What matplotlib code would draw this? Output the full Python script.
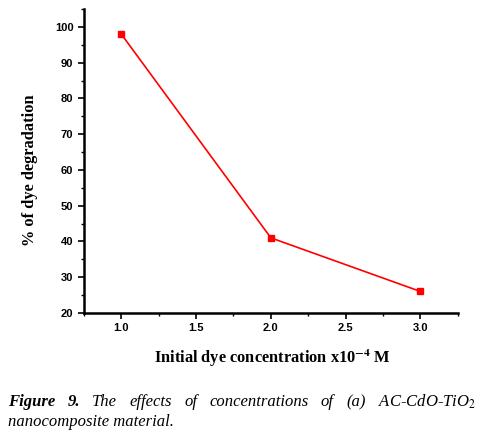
import matplotlib
matplotlib.use("Agg")
import matplotlib.pyplot as plt
from matplotlib.ticker import MultipleLocator

# --- dane ---
stezenie = [1.0, 2.0, 3.0]          # x10^-4 M
degradacja = [98, 41, 26]           # %

x_ticks = [1.0, 1.5, 2.0, 2.5, 3.0]
y_ticks = [20, 30, 40, 50, 60, 70, 80, 90, 100]

plt.rcParams["mathtext.fontset"] = "stix"

fig = plt.figure(figsize=(4.85, 4.34), dpi=100)
ax = fig.add_axes([0.173, 0.279, 0.771, 0.70])

ax.plot(stezenie, degradacja, color="red", lw=1.2, marker="s", ms=4.5,
        mfc="red", mec="red")

ax.set_xlim(0.75, 3.25)
ax.set_ylim(20, 105)
ax.set_xticks(x_ticks)
ax.set_yticks(y_ticks)
ax.xaxis.set_minor_locator(MultipleLocator(0.25))
ax.yaxis.set_minor_locator(MultipleLocator(5))

for s in ["top", "right"]:
    ax.spines[s].set_visible(False)
for s in ["left", "bottom"]:
    ax.spines[s].set_linewidth(1.8)

ax.tick_params(which="major", direction="out", length=4, width=1.2,
               labelsize=8)
ax.tick_params(which="minor", direction="out", length=2.5, width=1.0)
for lab in ax.get_xticklabels() + ax.get_yticklabels():
    lab.set_fontfamily("Liberation Sans")
    lab.set_fontweight("bold")

fig.text(30 / 485, 1 - 170 / 434, "% of dye degradation",
         family="Liberation Serif", fontweight="bold", fontsize=11.8,
         rotation=90, ha="center", va="center")
fig.text(272 / 485, 0.175, r"Initial dye concentration x10$^{\mathbf{-4}}$ M",
         family="Liberation Serif", fontweight="bold", fontsize=11.8,
         ha="center", va="center")

# --- podpis (wyjustowany) ---
fig.canvas.draw()
renderer = fig.canvas.get_renderer()

slowa = [("Figure", "bold"), ("9.", "bold"), ("The", "normal"),
         ("effects", "normal"), ("of", "normal"), ("concentrations", "normal"),
         ("of", "normal"), ("(a)", "normal"), (r"AC-CdO-TiO$_2$", "normal")]
lewa, prawa = 8 / 485, 476 / 485
y1 = 1 - 402 / 434
teksty = []
for w, fw in slowa:
    t = fig.text(0, y1, w, family="Liberation Serif", style="italic",
                 fontweight=fw, fontsize=12, va="center", ha="left")
    teksty.append(t)
szer = [t.get_window_extent(renderer).width / fig.bbox.width for t in teksty]
odstep = (prawa - lewa - sum(szer)) / (len(teksty) - 1)
x = lewa
for t, s in zip(teksty, szer):
    t.set_x(x)
    x += s + odstep

fig.text(lewa, 1 - 422 / 434, "nanocomposite material.",
         family="Liberation Serif", style="italic", fontsize=12,
         va="center", ha="left")

fig.savefig("out.png", dpi=100)
